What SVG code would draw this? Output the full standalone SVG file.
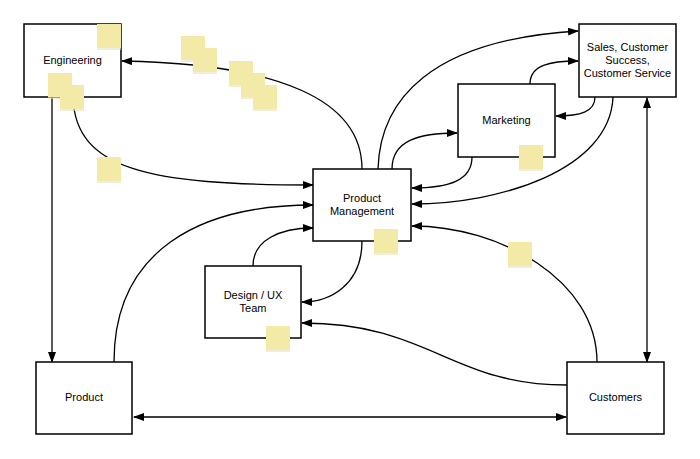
<svg xmlns="http://www.w3.org/2000/svg" width="700" height="459" viewBox="0 0 700 459">
<style>
.box{fill:#fff;stroke:#000;stroke-width:1.5}
.lbl{font-family:"Liberation Sans",Arial,sans-serif;font-size:11px;fill:#000;text-anchor:middle}
.c{fill:none;stroke:#000;stroke-width:1.3}
.a{marker-end:url(#ah)}
.b{marker-start:url(#ahs);marker-end:url(#ah)}
.st{fill:#F4EAA8}
.sh{fill:#E6E1C8;opacity:0.6}
</style>
<defs>
<marker id="ah" markerWidth="11" markerHeight="8" refX="10" refY="4" orient="auto" markerUnits="userSpaceOnUse">
<path d="M0,0 L11,4 L0,8 z" fill="#000"/>
</marker>
<marker id="ahs" markerWidth="11" markerHeight="8" refX="10" refY="4" orient="auto-start-reverse" markerUnits="userSpaceOnUse">
<path d="M0,0 L11,4 L0,8 z" fill="#000"/>
</marker>
<g id="sticky"><rect class="sh" x="0" y="2" width="24" height="24"/><rect class="st" x="0" y="0" width="24" height="24"/></g>
</defs>
<rect width="700" height="459" fill="#fff"/>
<g id="connectors">
<path class="c a" d="M362,169 C362,100 280,64 122,61"/>
<path class="c a" d="M378,169 C380,100 430,40 578,31"/>
<path class="c a" d="M392,169 C392,140 420,133 457,133"/>
<path class="c a" d="M530,84 C530,65 550,61 578,61"/>
<path class="c a" d="M595,97 C595,112 580,116 556,116"/>
<path class="c a" d="M472,157 C472,180 450,188 412,188"/>
<path class="c a" d="M613,97 C610,170 500,204 412,204"/>
<path class="c a" d="M73,97 C75,170 150,185 313,185"/>
<path class="c a" d="M114,362 C114,250 200,205 313,205"/>
<path class="c a" d="M253,266 C253,240 280,228 313,228"/>
<path class="c a" d="M362,241 C362,285 330,302 302,302"/>
<path class="c a" d="M597,362 C597,280 500,226 412,226"/>
<path class="c a" d="M567,385 C450,385 430,323 302,323"/>
<path class="c b" d="M134,417 L566,417"/>
<path class="c a" d="M52,97 L52,362"/>
<path class="c b" d="M647,98 L647,362"/>
</g>
<g id="engineering">
<rect class="box" x="24" y="24" width="97" height="73"/>
<text class="lbl" x="72.5" y="64">Engineering</text>
</g>
<g id="sales">
<rect class="box" x="579" y="24" width="97" height="73"/>
<text class="lbl" x="627.5" y="51">Sales, Customer</text>
<text class="lbl" x="627.5" y="64">Success,</text>
<text class="lbl" x="627.5" y="77">Customer Service</text>
</g>
<g id="marketing">
<rect class="box" x="458" y="84" width="97" height="73"/>
<text class="lbl" x="506.5" y="124">Marketing</text>
</g>
<g id="product-management">
<rect class="box" x="313" y="169" width="98" height="72"/>
<text class="lbl" x="362" y="202">Product</text>
<text class="lbl" x="362" y="215">Management</text>
</g>
<g id="design-ux">
<rect class="box" x="205" y="266" width="96" height="72"/>
<text class="lbl" x="253" y="299">Design / UX</text>
<text class="lbl" x="253" y="312">Team</text>
</g>
<g id="product">
<rect class="box" x="36" y="362" width="96" height="72"/>
<text class="lbl" x="84" y="401">Product</text>
</g>
<g id="customers">
<rect class="box" x="567" y="362" width="97" height="72"/>
<text class="lbl" x="615.5" y="401">Customers</text>
</g>
<g id="stickies">
<use href="#sticky" x="97" y="24"/>
<use href="#sticky" x="48" y="73"/>
<use href="#sticky" x="60" y="85"/>
<use href="#sticky" x="181" y="36"/>
<use href="#sticky" x="193" y="48"/>
<use href="#sticky" x="229" y="61"/>
<use href="#sticky" x="241" y="73"/>
<use href="#sticky" x="253" y="85"/>
<use href="#sticky" x="97" y="157"/>
<use href="#sticky" x="519" y="145"/>
<use href="#sticky" x="374" y="229"/>
<use href="#sticky" x="266" y="326"/>
<use href="#sticky" x="508" y="242"/>
</g>
</svg>
